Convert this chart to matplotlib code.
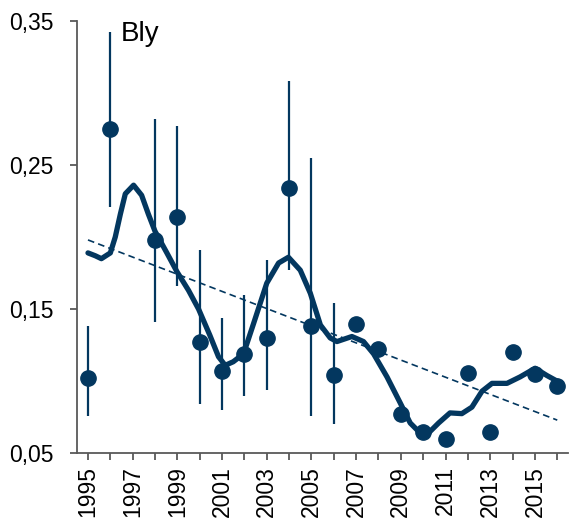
import numpy as np
import matplotlib
matplotlib.use("Agg")
import matplotlib.pyplot as plt

plt.rcParams['font.family'] = ['Liberation Sans', 'DejaVu Sans']

# measured points (1997 has no value)
years = [1995, 1996, 1998, 1999, 2000, 2001, 2002, 2003, 2004, 2005, 2006,
         2007, 2008, 2009, 2010, 2011, 2012, 2013, 2014, 2015, 2016]
values = [0.102, 0.275, 0.198, 0.214, 0.127, 0.107, 0.119, 0.130, 0.234, 0.138, 0.104,
          0.140, 0.122, 0.077, 0.065, 0.060, 0.106, 0.065, 0.120, 0.105, 0.097]

# confidence intervals (only the early years have them)
err_years = [1995, 1996, 1998, 1999, 2000, 2001, 2002, 2003, 2004, 2005, 2006]
err_low = [0.076, 0.221, 0.141, 0.166, 0.084, 0.080, 0.090, 0.094, 0.177, 0.076, 0.070]
err_high = [0.138, 0.342, 0.282, 0.277, 0.191, 0.144, 0.160, 0.184, 0.308, 0.255, 0.154]

# smoothed curve
smooth_x = [1995.0, 1995.33, 1995.6, 1996.0, 1996.22, 1996.45, 1996.67, 1997.04,
            1997.4, 1997.7, 1998.0, 1998.53, 1998.98, 1999.5, 1999.95, 2000.45,
            2000.84, 2001.14, 2001.5, 2001.96, 2002.41, 2003.0, 2003.53, 2003.97,
            2004.5, 2004.95, 2005.4, 2005.84, 2006.14, 2006.81, 2007.33, 2007.78,
            2008.38, 2008.97, 2009.42, 2009.87, 2010.17, 2010.69, 2011.2, 2011.73,
            2012.18, 2012.63, 2013.08, 2013.75, 2014.34, 2015.01, 2015.53, 2016.0]
smooth_y = [0.189, 0.187, 0.185, 0.189, 0.200, 0.216, 0.230, 0.236,
            0.229, 0.216, 0.204, 0.189, 0.176, 0.163, 0.150, 0.132,
            0.117, 0.111, 0.1135, 0.119, 0.140, 0.168, 0.182, 0.186,
            0.177, 0.161, 0.139, 0.130, 0.1275, 0.131, 0.1275, 0.119,
            0.103, 0.085, 0.071, 0.064, 0.063, 0.071, 0.078, 0.0775,
            0.082, 0.093, 0.0985, 0.0985, 0.103, 0.109, 0.104, 0.100]

# linear trend
trend_x = [1995, 2016]
trend_y = [0.198, 0.073]

yticks = [0.05, 0.15, 0.25, 0.35]
ytick_labels = ["0,05", "0,15", "0,25", "0,35"]

navy = "#03375f"
grey = "#595959"

fig = plt.figure(figsize=(5.69, 5.21), dpi=100)
ax = fig.add_axes([0.135, 0.13, 0.864, 0.83])

ax.vlines(err_years, err_low, err_high, color=navy, lw=1.6, zorder=2)
ax.plot(trend_x, trend_y, color=navy, lw=1.2, ls=(0, (4, 2.5)), zorder=2)
ax.plot(smooth_x, smooth_y, color=navy, lw=3.8, solid_capstyle='round',
        solid_joinstyle='round', zorder=3)
ax.plot(years, values, 'o', color=navy, ms=11, clip_on=False, zorder=4)

ax.text(1996.45, 0.350, "Bly", fontsize=20, va='top', ha='left', color='black')

ax.set_xlim(1994.5, 2016.5)
ax.set_ylim(0.05, 0.35)
ax.set_yticks(yticks)
ax.set_yticklabels(ytick_labels)
ax.set_xticks(range(1995, 2017))
ax.set_xticklabels([str(y) if (y - 1995) % 2 == 0 else "" for y in range(1995, 2017)],
                   rotation=90)

for s in ['top', 'right']:
    ax.spines[s].set_visible(False)
for s in ['left', 'bottom']:
    ax.spines[s].set_color(grey)
    ax.spines[s].set_linewidth(1.3)

ax.tick_params(axis='y', direction='out', length=5, width=1.3, color=grey,
               labelsize=16.5, pad=12)
ax.tick_params(axis='x', direction='out', length=5, width=1.3, color=grey,
               labelsize=16.5, pad=4)

fig.savefig("out.png", dpi=100)
